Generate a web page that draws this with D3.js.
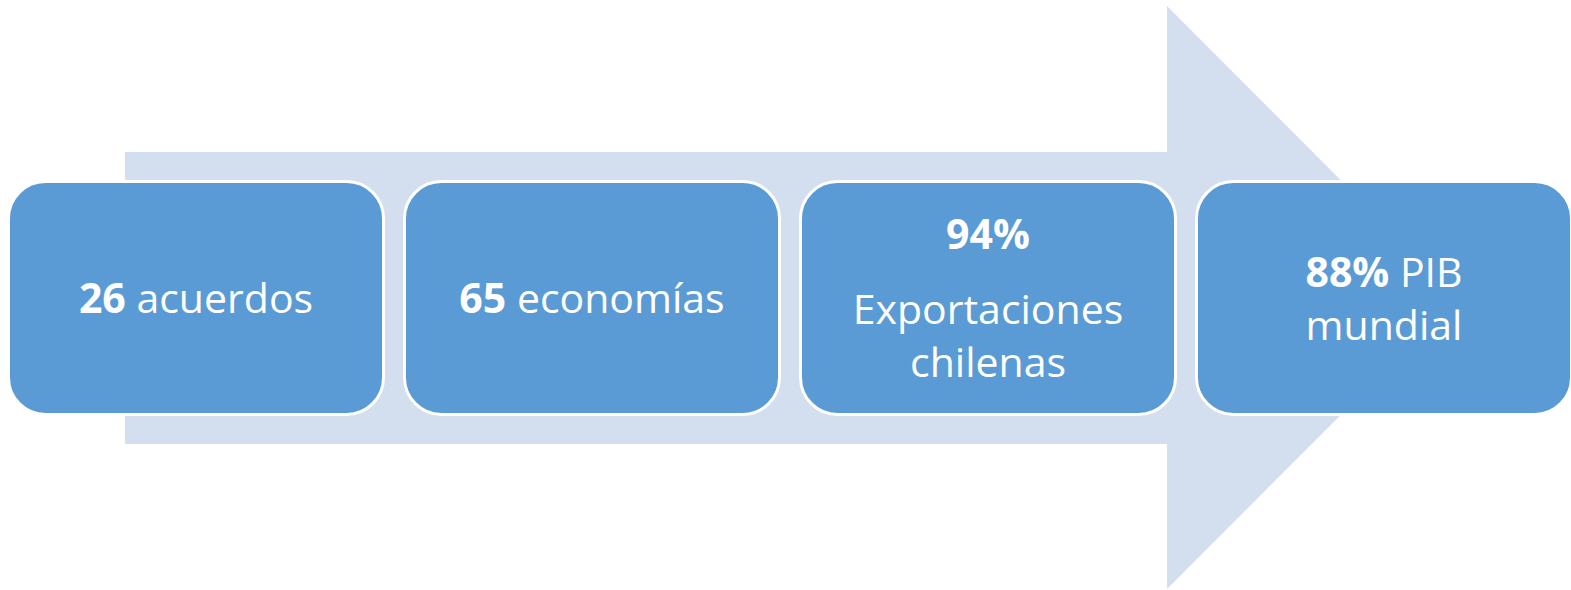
<!DOCTYPE html>
<meta charset="utf-8">
<body style="margin:0;background:#fff">
<script src="https://d3js.org/d3.v7.min.js"></script>
<script>
// Data: one entry per step, each step a list of lines, each line a list of [text, bold]
var steps = ["acuerdos", "economias", "exportaciones", "pib"];
var lines26 = [[["26", true], [" acuerdos", false]]];
var lines65 = [[["65", true], [" economías", false]]];
var lines94 = [[["94%", true]], [["Exportaciones", false]], [["chilenas", false]]];
var lines88 = [[["88%", true], [" PIB", false]], [["mundial", false]]];
var paraBreakAfter = [[], [], [0], []]; // extra paragraph space after these line indexes
var stepLines = [lines26, lines65, lines94, lines88];

var width = 1571, height = 590;
var boxFill = "#5b9bd5", arrowFill = "#d3deef";

var svg = d3.select("body").append("svg")
    .attr("width", width)
    .attr("height", height)
    .style("display", "block");

// Horizontal layout of the boxes
var x = d3.scaleBand()
    .domain(steps)
    .range([10, 1570])
    .paddingInner(0.0606)
    .paddingOuter(0);

var boxTop = 183, boxBottom = 413, radius = 37;
var cy = (boxTop + boxBottom) / 2;

// Big background arrow
var arrowPts = [
    [125, 152], [1167, 152], [1167, 6], [1458, 297.5],
    [1167, 589], [1167, 444], [125, 444]
];
svg.append("path")
    .attr("d", d3.line()(arrowPts) + "Z")
    .attr("fill", arrowFill);

// Rounded boxes
svg.selectAll(".box")
    .data(steps)
    .enter().append("rect")
    .attr("class", "box")
    .attr("x", function(d) { return x(d) - 1.5; })
    .attr("y", boxTop - 1.5)
    .attr("width", x.bandwidth() + 3)
    .attr("height", boxBottom - boxTop + 3)
    .attr("rx", radius)
    .attr("fill", boxFill)
    .attr("stroke", "#fff")
    .attr("stroke-width", 3);

// Labels
var lineH = 53, ascent = 41.5, paraGap = 22, fontSize = 41;

steps.forEach(function(s, i) {
    var lines = stepLines[i];
    var gaps = paraBreakAfter[i];
    var total = lines.length * lineH + gaps.length * paraGap;
    var y = cy - total / 2 + ascent;
    var cx = x(s) + x.bandwidth() / 2;

    lines.forEach(function(line, j) {
        var t = svg.append("text")
            .attr("x", cx)
            .attr("y", y)
            .attr("text-anchor", "middle")
            .attr("fill", "#fff")
            .style("font-family", "'Open Sans', sans-serif")
            .style("font-size", fontSize + "px");
        line.forEach(function(seg) {
            t.append("tspan")
                .style("font-weight", seg[1] ? "bold" : "normal")
                .text(seg[0]);
        });
        y += lineH + (gaps.indexOf(j) >= 0 ? paraGap : 0);
    });
});
</script>
</body>
</html>
